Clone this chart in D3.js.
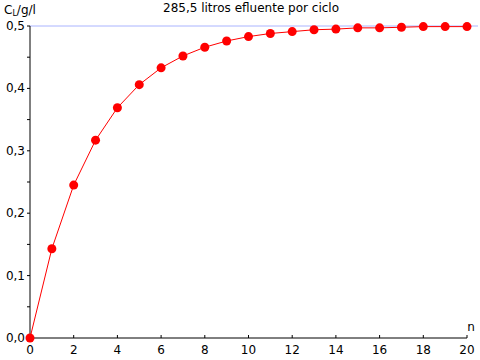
<!DOCTYPE html>
<html><head><meta charset="utf-8">
<script src="https://cdn.jsdelivr.net/npm/d3@7"></script>
<style>body{margin:0;background:#fff}svg{display:block;font-family:"DejaVu Sans",Verdana,sans-serif}</style>
</head><body><svg id="c" width="480" height="360"></svg>
<script>
const nValues = [0,1,2,3,4,5,6,7,8,9,10,11,12,13,14,15,16,17,18,19,20];
const concValues = [0,0.143,0.245,0.317,0.369,0.406,0.433,0.452,0.466,0.476,0.483,0.488,0.491,0.494,0.495,0.497,0.497,0.498,0.499,0.499,0.499];
const xTicks = [0,2,4,6,8,10,12,14,16,18,20];
const yTicks = [0,0.1,0.2,0.3,0.4,0.5];
const yMinor = [0.05,0.15,0.25,0.35,0.45];
const limitValue = 0.5;
const title = "285,5 litros efluente por ciclo";

const svg = d3.select("#c");
const x = d3.scaleLinear().domain([0,20]).range([30,467]);
const y = d3.scaleLinear().domain([0,0.5]).range([338,26]);
const fmt = d => d3.format(".1f")(d).replace(".",",");
const fs = 12;

// limit line
svg.append("line").attr("x1",x(0)).attr("x2",478).attr("y1",y(limitValue)).attr("y2",y(limitValue))
  .attr("stroke","#aab4ff").attr("stroke-width",1);

// x axis
const gx = svg.append("g").attr("transform",`translate(0,${y(0)})`);
gx.append("line").attr("x1",x(0)).attr("x2",x(20)).attr("stroke","#000");
gx.selectAll(".t").data(xTicks).join("line").attr("x1",d=>x(d)).attr("x2",d=>x(d)).attr("y1",0).attr("y2",-3).attr("stroke","#000");
gx.selectAll("text").data(xTicks).join("text").attr("x",d=>x(d)).attr("y",16).attr("text-anchor","middle")
  .attr("font-size",fs).text(d=>d);
svg.append("text").attr("x",x(20)+4).attr("y",y(0)-7).attr("text-anchor","middle").attr("font-size",fs).text("n");

// y axis
const gy = svg.append("g").attr("transform",`translate(${x(0)},0)`);
gy.append("line").attr("y1",y(0)).attr("y2",y(0.5)).attr("stroke","#000");
gy.selectAll(".t").data(yTicks).join("line").attr("x1",-3).attr("x2",0).attr("y1",d=>y(d)).attr("y2",d=>y(d)).attr("stroke","#000");
gy.selectAll(".m").data(yMinor).join("line").attr("x1",-3).attr("x2",0).attr("y1",d=>y(d)).attr("y2",d=>y(d)).attr("stroke","#000");
gy.selectAll("text").data(yTicks).join("text").attr("x",-5).attr("y",d=>y(d)+4).attr("text-anchor","end")
  .attr("font-size",fs).text(fmt);
const yl = svg.append("text").attr("x",4).attr("y",14).attr("font-size",fs);
yl.append("tspan").text("C");
yl.append("tspan").attr("dy",2).attr("font-size",8).text("L");
yl.append("tspan").attr("dy",-2).text("/g/l");

// title
svg.append("text").attr("x",251).attr("y",12).attr("text-anchor","middle").attr("font-size",fs).text(title);

// series
const data = nValues.map((n,i)=>({n,v:concValues[i]}));
svg.append("path").datum(data).attr("fill","none").attr("stroke","#ff0000").attr("stroke-width",1)
  .attr("d",d3.line().x(d=>x(d.n)).y(d=>y(d.v)));
svg.selectAll("circle").data(data).join("circle").attr("cx",d=>x(d.n)).attr("cy",d=>y(d.v)).attr("r",4.5).attr("fill","#ff0000");
</script></body></html>
